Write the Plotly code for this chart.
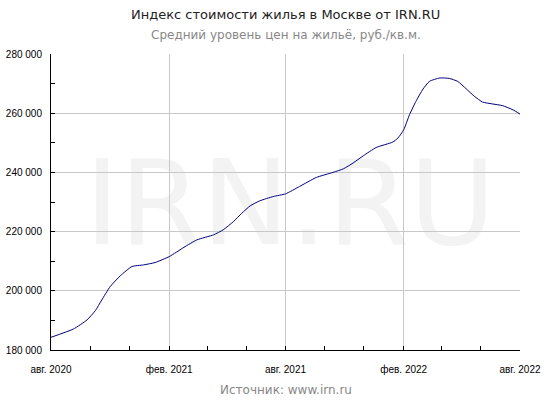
import plotly.graph_objects as go

dates = ["2020-08-01","2020-09-05","2020-09-26","2020-10-09","2020-10-19","2020-11-01",
         "2020-11-17","2020-12-05","2020-12-23","2021-01-10","2021-02-01","2021-02-24",
         "2021-03-16","2021-04-11","2021-04-26","2021-05-12","2021-05-25","2021-06-07",
         "2021-06-22","2021-07-13","2021-08-01","2021-08-23","2021-09-18","2021-10-14",
         "2021-10-30","2021-11-14","2021-11-30","2021-12-20","2022-01-15","2022-01-23",
         "2022-02-01","2022-02-10","2022-02-20","2022-03-03","2022-03-13","2022-03-29",
         "2022-04-13","2022-04-26","2022-05-09","2022-05-22","2022-06-04","2022-06-20",
         "2022-07-05","2022-07-21","2022-08-01"]
prices = [184300,187100,190150,193300,196900,201400,
          205100,208200,208750,209550,211550,214700,
          217200,218900,220600,223400,226200,228700,
          230400,231850,232750,235250,238300,240000,
          241200,243150,245600,248400,250250,251600,
          254400,259500,264000,268150,270750,271900,
          271750,270750,268300,265700,263750,263100,
          262550,261150,259700]

x_tickvals = ["2020-08-01","2021-02-01","2021-08-01","2022-02-01","2022-08-01"]
x_ticktext = ["авг. 2020","фев. 2021","авг. 2021","фев. 2022","авг. 2022"]
y_tickvals = [180000,200000,220000,240000,260000,280000]
y_ticktext = ["180 000","200 000","220 000","240 000","260 000","280 000"]

title = "Индекс стоимости жилья в Москве от IRN.RU"
subtitle = "Средний уровень цен на жильё, руб./кв.м."
source = "Источник: www.irn.ru"
watermark = "IRN.RU"

fig = go.Figure()
fig.add_trace(go.Scatter(x=dates, y=prices, mode="lines",
                         line=dict(color="#000080", width=1, shape="spline", smoothing=0.5),
                         hoverinfo="skip", showlegend=False))

tickfont = dict(family="Liberation Sans, Arial, sans-serif", size=10, color="#000000")

fig.update_layout(
    width=550, height=400,
    margin=dict(l=51, r=30, t=54, b=50, autoexpand=False),
    paper_bgcolor="white", plot_bgcolor="white",
    showlegend=False,
    xaxis=dict(
        type="date", range=["2020-08-01", "2022-08-01"],
        tickvals=x_tickvals, ticktext=x_ticktext,
        showgrid=True, gridcolor="#c8c8c8", gridwidth=1,
        showline=True, linecolor="#000000", linewidth=1,
        ticks="inside", ticklen=4, tickcolor="#000000",
        minor=dict(dtick="M2", tick0="2020-08-01", ticks="inside", ticklen=4,
                   tickcolor="#000000", showgrid=False),
        tickfont=tickfont, ticklabelstandoff=10,
        zeroline=False, fixedrange=True, automargin=False,
    ),
    yaxis=dict(
        range=[180000, 280000],
        tickvals=y_tickvals, ticktext=y_ticktext,
        showgrid=True, gridcolor="#c8c8c8", gridwidth=1,
        showline=True, linecolor="#000000", linewidth=1,
        ticks="inside", ticklen=4, tickcolor="#000000",
        minor=dict(dtick=10000, tick0=180000, ticks="inside", ticklen=4,
                   tickcolor="#000000", showgrid=False),
        tickfont=tickfont, ticklabelstandoff=6,
        zeroline=False, fixedrange=True, automargin=False,
    ),
    shapes=[dict(type="rect", xref="paper", yref="paper", x0=0.05, x1=0.97, y0=0.214, y1=0.834,
                 line=dict(width=0), fillcolor="rgba(0,0,0,0)", layer="below",
                 label=dict(text=watermark, textposition="middle center",
                            font=dict(family="DejaVu Sans", size=118, color="#f3f3f3")))],
    annotations=[
        dict(text=title, xref="paper", yref="paper", x=0.5, y=1, xanchor="center", yanchor="middle",
             xshift=0, yshift=54-14, showarrow=False,
             font=dict(family="DejaVu Sans", size=13, color="#222222")),
        dict(text=subtitle, xref="paper", yref="paper", x=0.5, y=1, xanchor="center", yanchor="middle",
             yshift=54-35, showarrow=False,
             font=dict(family="DejaVu Sans", size=12, color="#888888")),
        dict(text=source, xref="paper", yref="paper", x=0.5, y=0, xanchor="center", yanchor="middle",
             xshift=0, yshift=-(390-350), showarrow=False,
             font=dict(family="DejaVu Sans", size=12, color="#888888")),
    ],
)

fig.write_html("out.html", config={"displayModeBar": False},
               post_script="document.body.style.margin='0';")
